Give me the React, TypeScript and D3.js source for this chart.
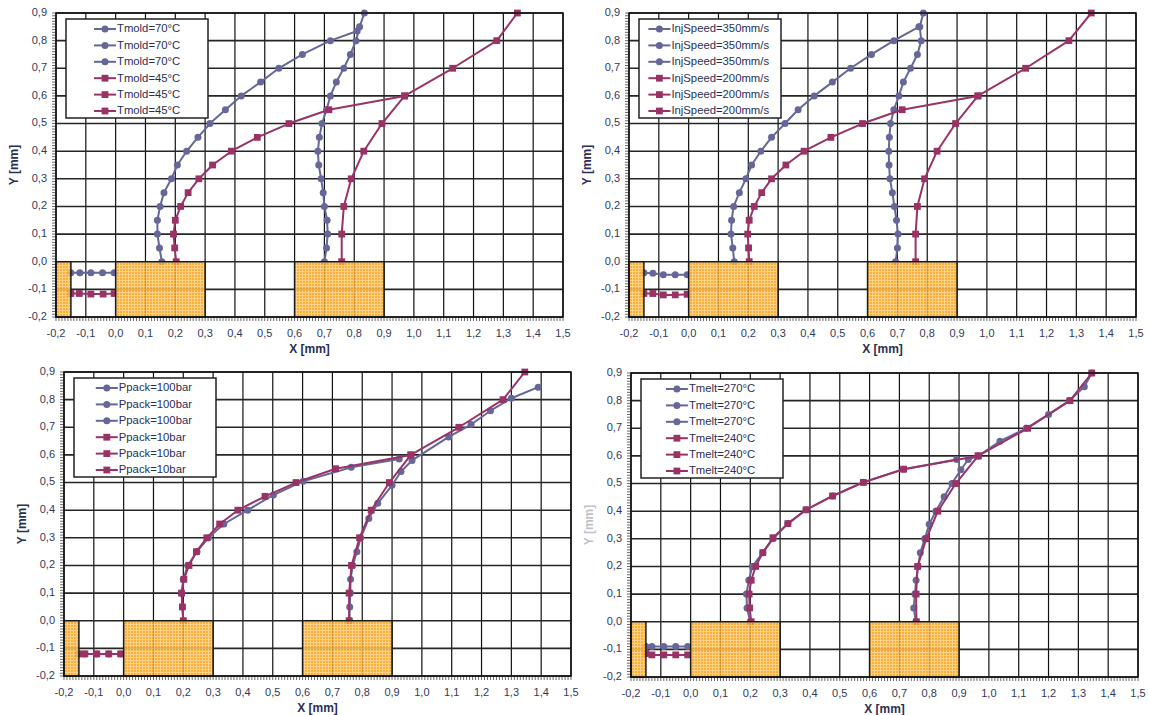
import React from 'react';
import * as d3 from 'd3';

type Pt = [number, number];

// axis ticks
const xTickValues = [-0.2, -0.1, 0, 0.1, 0.2, 0.3, 0.4, 0.5, 0.6, 0.7, 0.8, 0.9, 1.0, 1.1, 1.2, 1.3, 1.4, 1.5];
const yTickValues = [-0.2, -0.1, 0, 0.1, 0.2, 0.3, 0.4, 0.5, 0.6, 0.7, 0.8, 0.9];

// mould wall blocks (x ranges), from y=-0.2 to y=0
const blockRanges: Pt[] = [[-0.2, -0.15], [0.0, 0.3], [0.6, 0.9]];

// --- Tmold ---
const tmold70Front: Pt[] = [[0.155, 0], [0.147, 0.05], [0.14, 0.1], [0.14, 0.15], [0.149, 0.2], [0.162, 0.25], [0.187, 0.3], [0.207, 0.35], [0.238, 0.4], [0.276, 0.45], [0.316, 0.5], [0.368, 0.55], [0.421, 0.6], [0.486, 0.65], [0.547, 0.7], [0.626, 0.75], [0.72, 0.8], [0.81, 0.835]];
const tmold70Back: Pt[] = [[0.70, 0], [0.707, 0.05], [0.711, 0.1], [0.709, 0.15], [0.70, 0.2], [0.696, 0.25], [0.689, 0.3], [0.681, 0.35], [0.678, 0.4], [0.683, 0.45], [0.692, 0.5], [0.707, 0.55], [0.72, 0.6], [0.74, 0.65], [0.765, 0.7], [0.787, 0.75], [0.806, 0.8], [0.818, 0.85], [0.834, 0.9]];
const tmold70Gate: Pt[] = [[-0.15, -0.04], [-0.12, -0.04], [-0.083, -0.04], [-0.044, -0.04], [-0.005, -0.04]];
const tmold45Front: Pt[] = [[0.203, 0], [0.198, 0.05], [0.194, 0.1], [0.2, 0.15], [0.218, 0.2], [0.243, 0.25], [0.279, 0.3], [0.325, 0.35], [0.388, 0.4], [0.475, 0.45], [0.581, 0.5], [0.715, 0.55], [0.969, 0.6]];
const tmold45Back: Pt[] = [[0.758, 0], [0.758, 0.1], [0.765, 0.2], [0.79, 0.3], [0.832, 0.4], [0.893, 0.5], [0.969, 0.6], [1.13, 0.7], [1.278, 0.8], [1.347, 0.9]];
const tmold45Gate: Pt[] = [[-0.15, -0.115], [-0.122, -0.115], [-0.083, -0.117], [-0.042, -0.117], [-0.005, -0.115]];

// --- InjSpeed ---
const inj350Front: Pt[] = [[0.153, 0], [0.148, 0.05], [0.142, 0.1], [0.144, 0.15], [0.151, 0.2], [0.17, 0.25], [0.192, 0.3], [0.211, 0.35], [0.242, 0.4], [0.278, 0.45], [0.323, 0.5], [0.367, 0.55], [0.421, 0.6], [0.482, 0.65], [0.543, 0.7], [0.613, 0.75], [0.688, 0.8], [0.772, 0.85]];
const inj350Back: Pt[] = [[0.694, 0], [0.70, 0.05], [0.702, 0.1], [0.697, 0.15], [0.69, 0.2], [0.683, 0.25], [0.675, 0.3], [0.672, 0.35], [0.671, 0.4], [0.673, 0.45], [0.677, 0.5], [0.688, 0.55], [0.705, 0.6], [0.72, 0.65], [0.744, 0.7], [0.767, 0.75], [0.78, 0.8], [0.775, 0.85], [0.787, 0.9]];
const inj350Gate: Pt[] = [[-0.15, -0.04], [-0.12, -0.042], [-0.085, -0.047], [-0.045, -0.047], [-0.005, -0.047]];
const inj200Front: Pt[] = [[0.203, 0], [0.201, 0.05], [0.198, 0.1], [0.203, 0.15], [0.22, 0.2], [0.245, 0.25], [0.278, 0.3], [0.326, 0.35], [0.387, 0.4], [0.477, 0.45], [0.583, 0.5], [0.716, 0.55], [0.97, 0.6]];
const inj200Back: Pt[] = [[0.761, 0], [0.761, 0.1], [0.767, 0.2], [0.791, 0.3], [0.833, 0.4], [0.895, 0.5], [0.97, 0.6], [1.13, 0.7], [1.275, 0.8], [1.35, 0.9]];
const inj200Gate: Pt[] = [[-0.15, -0.115], [-0.12, -0.115], [-0.085, -0.12], [-0.045, -0.12], [-0.005, -0.118]];

// --- Ppack ---
const ppack100Front: Pt[] = [[0.2, 0], [0.197, 0.05], [0.195, 0.1], [0.2, 0.15], [0.215, 0.2], [0.246, 0.25], [0.284, 0.3], [0.336, 0.35], [0.416, 0.4], [0.502, 0.455], [0.602, 0.505], [0.763, 0.555], [0.924, 0.585]];
const ppack100Back: Pt[] = [[0.757, 0], [0.758, 0.05], [0.76, 0.1], [0.761, 0.15], [0.768, 0.2], [0.782, 0.25], [0.795, 0.3], [0.822, 0.37], [0.852, 0.425], [0.9, 0.49], [0.93, 0.54], [0.967, 0.58], [1.09, 0.665], [1.165, 0.71], [1.23, 0.76], [1.30, 0.805], [1.39, 0.845]];
const ppack100Gate: Pt[] = [[-0.15, -0.12], [-0.13, -0.12], [-0.09, -0.12], [-0.05, -0.12], [-0.01, -0.12]];
const ppack10Front: Pt[] = [[0.2, 0], [0.197, 0.05], [0.194, 0.1], [0.202, 0.15], [0.219, 0.2], [0.244, 0.25], [0.279, 0.3], [0.322, 0.35], [0.383, 0.4], [0.474, 0.45], [0.578, 0.5], [0.711, 0.55], [0.963, 0.6]];
const ppack10Back: Pt[] = [[0.756, 0], [0.756, 0.1], [0.764, 0.2], [0.791, 0.3], [0.83, 0.4], [0.891, 0.5], [0.963, 0.6], [1.124, 0.7], [1.272, 0.8], [1.345, 0.9]];
const ppack10Gate: Pt[] = [[-0.15, -0.12], [-0.13, -0.12], [-0.09, -0.12], [-0.05, -0.12], [-0.01, -0.12]];

// --- Tmelt ---
const tmelt270Front: Pt[] = [[0.2, 0], [0.189, 0.05], [0.187, 0.1], [0.195, 0.15], [0.207, 0.2], [0.242, 0.25], [0.276, 0.3], [0.326, 0.355], [0.387, 0.405], [0.476, 0.455], [0.579, 0.505], [0.714, 0.552], [0.892, 0.587]];
const tmelt270Back: Pt[] = [[0.755, 0], [0.748, 0.05], [0.752, 0.1], [0.756, 0.15], [0.763, 0.2], [0.77, 0.25], [0.785, 0.3], [0.8, 0.353], [0.822, 0.4], [0.85, 0.452], [0.876, 0.5], [0.906, 0.55], [0.931, 0.587], [0.965, 0.6], [1.037, 0.653], [1.125, 0.7], [1.2, 0.75], [1.27, 0.8], [1.32, 0.85], [1.345, 0.9]];
const tmelt270Gate: Pt[] = [[-0.15, -0.09], [-0.13, -0.09], [-0.09, -0.09], [-0.05, -0.09], [-0.01, -0.09]];
const tmelt240Front: Pt[] = [[0.203, 0], [0.198, 0.05], [0.196, 0.1], [0.203, 0.15], [0.218, 0.2], [0.242, 0.25], [0.276, 0.304], [0.326, 0.355], [0.387, 0.405], [0.476, 0.455], [0.579, 0.504], [0.714, 0.552], [0.964, 0.6]];
const tmelt240Back: Pt[] = [[0.757, 0], [0.756, 0.1], [0.761, 0.2], [0.79, 0.3], [0.829, 0.4], [0.889, 0.5], [0.964, 0.6], [1.13, 0.7], [1.272, 0.8], [1.345, 0.9]];
const tmelt240Gate: Pt[] = [[-0.15, -0.115], [-0.13, -0.12], [-0.09, -0.12], [-0.05, -0.12], [-0.01, -0.12]];

const BLUE = '#666699';
const PLUM = '#993366';

type Panel = {
  left: number;
  top: number;
  labelA: string;
  labelB: string;
  seriesA: Pt[][];
  seriesB: Pt[][];
  yTitleOpacity?: number;
};

const panels: Panel[] = [
  { left: 56, top: 13, labelA: 'Tmold=70°C', labelB: 'Tmold=45°C', seriesA: [tmold70Front, tmold70Back, tmold70Gate], seriesB: [tmold45Front, tmold45Back, tmold45Gate] },
  { left: 629, top: 13, labelA: 'InjSpeed=350mm/s', labelB: 'InjSpeed=200mm/s', seriesA: [inj350Front, inj350Back, inj350Gate], seriesB: [inj200Front, inj200Back, inj200Gate] },
  { left: 64, top: 372, labelA: 'Ppack=100bar', labelB: 'Ppack=10bar', seriesA: [ppack100Front, ppack100Back, ppack100Gate], seriesB: [ppack10Front, ppack10Back, ppack10Gate] },
  { left: 631, top: 373, labelA: 'Tmelt=270°C', labelB: 'Tmelt=240°C', seriesA: [tmelt270Front, tmelt270Back, tmelt270Gate], seriesB: [tmelt240Front, tmelt240Back, tmelt240Gate], yTitleOpacity: 0.3 },
];

const W = 507;
const H = 304;
const fmt = (v: number) => d3.format('.1f')(v).replace('.', ',').replace('−', '-');
const FONT = '"Liberation Sans", Arial, sans-serif';

function Marker({ x, y, square, color }: { x: number; y: number; square: boolean; color: string }) {
  return square
    ? <rect x={x - 3.4} y={y - 3.4} width={6.8} height={6.8} fill={color} />
    : <circle cx={x} cy={y} r={3.5} fill={color} />;
}

function ChartPanel({ p, idx }: { p: Panel; idx: number }) {
  const x = d3.scaleLinear().domain([-0.2, 1.5]).range([0, W]);
  const y = d3.scaleLinear().domain([-0.2, 0.9]).range([H, 0]);
  const line = d3.line<Pt>().x(d => x(d[0])).y(d => y(d[1]));
  const minorX = d3.range(-200, 1501, 10).map(v => v / 1000);
  const minorY = d3.range(-200, 901, 10).map(v => v / 1000);

  const groups = [
    { list: p.seriesA, color: BLUE, square: false, label: p.labelA },
    { list: p.seriesB, color: PLUM, square: true, label: p.labelB },
  ];
  const legendItems = groups.flatMap(g => g.list.map(() => g));

  const lgX = 10, lgY = 6, lgW = 142, lgH = 99;
  const textW = (s: string) => s.length * 6.2;
  const contentW = 22 + 2 + textW(legendItems[0].label);
  const lgStart = lgX + (lgW - contentW) / 2;

  return (
    <g transform={`translate(${p.left},${p.top})`} fontFamily={FONT}>
      <rect x={0} y={0} width={W} height={H} fill="#fff" />
      {/* grid */}
      {xTickValues.map(v => (
        <line key={'gx' + v} x1={x(v)} x2={x(v)} y1={0} y2={H} stroke="#111" strokeWidth={1.2} />
      ))}
      {yTickValues.map(v => (
        <line key={'gy' + v} x1={0} x2={W} y1={y(v)} y2={y(v)} stroke="#262626" strokeWidth={1.6} />
      ))}
      {/* minor ticks */}
      {minorY.map(v => (
        <line key={'my' + v} x1={-4} x2={0} y1={y(v)} y2={y(v)} stroke="#444" strokeWidth={0.8} />
      ))}
      {minorX.map(v => (
        <line key={'mx' + v} x1={x(v)} x2={x(v)} y1={H} y2={H + 4} stroke="#444" strokeWidth={0.8} />
      ))}
      {/* series */}
      {groups.map((g, gi) => g.list.map((s, si) => (
        <g key={`s${gi}-${si}`}>
          <path d={line(s) || ''} fill="none" stroke={g.color} strokeWidth={2} strokeLinejoin="round" />
          {s.map((d, k) => <Marker key={k} x={x(d[0])} y={y(d[1])} square={g.square} color={g.color} />)}
        </g>
      )))}
      {/* mould blocks */}
      {blockRanges.map((b, i) => (
        <rect key={'b' + i} x={x(b[0])} y={y(0)} width={x(b[1]) - x(b[0])} height={y(-0.2) - y(0)}
          fill={`url(#orangeDots)`} fillOpacity={0.86} stroke="#1a1a1a" strokeWidth={1.5} />
      ))}
      {/* frame */}
      <rect x={0} y={0} width={W} height={H} fill="none" stroke="#111" strokeWidth={1.5} />
      {/* axis labels */}
      {xTickValues.map(v => (
        <text key={'tx' + v} x={x(v)} y={H + 17} textAnchor="middle" dominantBaseline="middle" fontSize={11} fill="#33385a">{fmt(v)}</text>
      ))}
      {yTickValues.map(v => (
        <text key={'ty' + v} x={-9} y={y(v)} textAnchor="end" dominantBaseline="middle" fontSize={11} fill="#33385a">{fmt(v)}</text>
      ))}
      <text x={W / 2} y={H + 33} textAnchor="middle" dominantBaseline="middle" fontSize={12} fontWeight="bold" fill="#2a2f55">X [mm]</text>
      <text transform={`translate(${-41},${H / 2}) rotate(-90)`} textAnchor="middle" dominantBaseline="middle" fontSize={12}
        fontWeight="bold" fill="#2a2f55" opacity={p.yTitleOpacity ?? 1}>Y [mm]</text>
      {/* legend */}
      <rect x={lgX} y={lgY} width={lgW} height={lgH} fill="#fff" stroke="#222" strokeWidth={1.5} />
      {legendItems.map((it, i) => {
        const cy = lgY + 10 + i * 16.4;
        return (
          <g key={'lg' + i}>
            <line x1={lgStart} x2={lgStart + 22} y1={cy} y2={cy} stroke={it.color} strokeWidth={2} />
            <Marker x={lgStart + 11} y={cy} square={it.square} color={it.color} />
            <text x={lgStart + 23} y={cy + 0.5} dominantBaseline="middle" fontSize={11.3} fill="#2a2f55">{it.label}</text>
          </g>
        );
      })}
    </g>
  );
}

export default function App() {
  return (
    <svg width={1149} height={715} style={{ position: 'absolute', left: 0, top: 0, background: '#fff' }}>
      <defs>
        <pattern id="orangeDots" width={3} height={3} patternUnits="userSpaceOnUse">
          <rect width={3} height={3} fill="#f6a31a" />
          <rect width={1} height={3} fill="#fbc873" />
          <rect width={3} height={1} fill="#fbc873" />
        </pattern>
      </defs>
      <rect width={1149} height={715} fill="#fff" />
      {panels.map((p, i) => <ChartPanel key={i} p={p} idx={i} />)}
    </svg>
  );
}
